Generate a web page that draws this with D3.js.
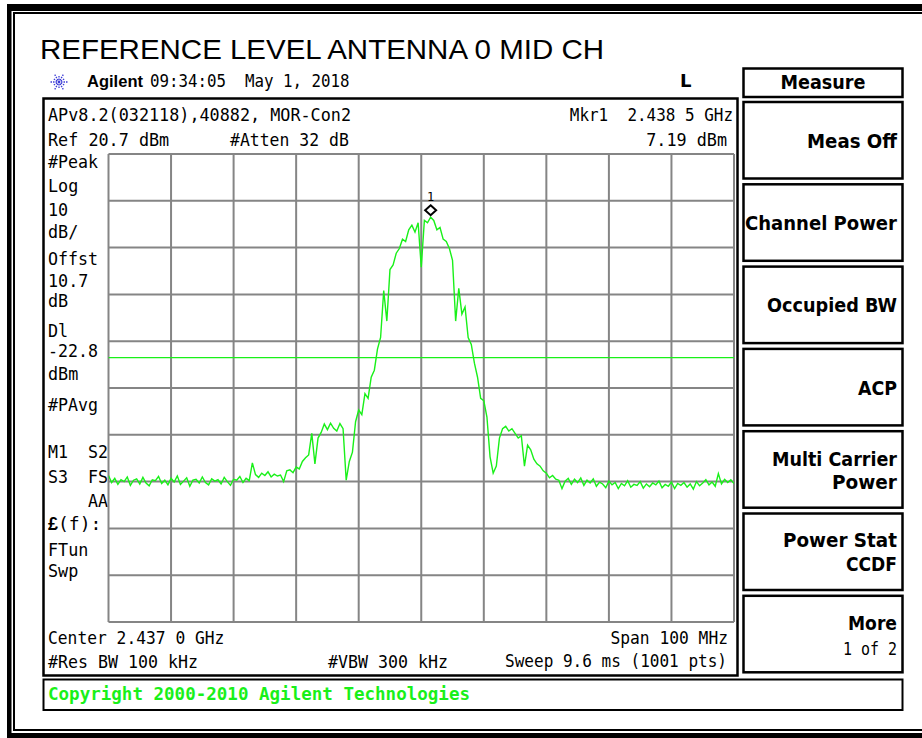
<!DOCTYPE html>
<meta charset="utf-8">
<style>
    body {
        margin: 0;
        background: #fff;
    }

    text {
        white-space: pre;
    }
</style>
<svg width="922" height="738"></svg>
<script src="https://d3js.org/d3.v7.min.js"></script>
<script>
    // sweep settings
    var centerMHz = 2437.0, spanMHz = 100;
    var refLevel = 20.7, dbPerDiv = 10, nDiv = 10;
    var displayLine = -22.8;
    var startMHz = 2387.0, stepMHz = 0.5;

    // trace, dBm, one value per 0.5 MHz from 2387.0 to 2487.0 MHz
    var traceDbm = [
        -48.0, -49.5, -48.6, -49.9, -48.9, -49.3, -48.3, -50.1, -49.0, -48.7,
        -49.8, -48.4, -49.6, -50.2, -48.9, -49.1, -48.2, -49.7, -49.0, -50.0,
        -48.6, -49.4, -48.1, -49.9, -49.2, -48.5, -50.3, -49.0, -48.8, -49.6,
        -48.3, -49.5, -50.0, -48.7, -49.2, -48.9, -49.8, -48.4, -49.3, -50.1,
        -48.8, -49.0, -48.2, -49.5, -48.6, -49.1,
        -45.3, -47.8, -48.4, -47.5, -48.0, -47.2, -48.3, -47.7, -48.1, -47.9,
        -49.3, -47.0, -46.8, -47.4, -46.2, -46.6, -45.0, -44.2, -43.6, -39.0,
        -45.5, -40.0, -38.8, -37.0, -38.2, -36.8, -37.9, -38.5, -36.9, -38.0,
        -49.0, -45.0, -43.0, -36.5, -34.0, -35.0, -30.5, -31.5, -27.0, -25.5,
        -21.0, -18.5, -8.5, -15.0, -4.0, -3.0, -0.5, 0.5, 2.5, 2.0,
        4.5, 5.5, 4.0, 6.0, -3.5, 6.5, 6.0, 7.19, 6.5, 4.5,
        5.0, 2.5, 2.0, 0.5, -2.0, -15.0, -8.0, -13.5, -12.0, -18.5,
        -20.0, -24.0, -27.0, -31.5, -32.0, -35.5, -44.0, -47.5, -46.0, -40.0,
        -38.0, -37.5, -38.5, -38.0, -39.0, -40.0, -39.5, -46.0, -41.5, -42.5,
        -44.5, -45.5, -46.0, -47.0, -47.5, -48.5, -48.0, -48.8, -49.0, -50.8,
        -49.2, -48.6, -49.9, -48.8, -49.5, -48.5, -50.1, -49.0, -49.6, -48.7,
        -50.3, -49.4, -49.8, -50.6, -49.2, -50.0, -49.5, -50.8, -49.7, -50.2,
        -49.1, -50.5, -49.9, -50.1, -49.3, -50.7, -49.8, -50.4, -49.6, -50.0,
        -49.2, -50.6, -49.9, -50.3, -49.4, -50.8, -49.7, -50.1, -49.5, -50.5,
        -49.8, -50.9, -49.3, -50.2, -49.6, -48.9, -50.0, -49.4, -50.3, -47.6,
        -49.8, -48.8, -49.5, -48.9, -49.7
    ];

    var marker = {mhz: 2438.5, dbm: 7.19, label: "1"};

    // screen texts
    var title = "REFERENCE LEVEL ANTENNA 0 MID CH";
    var clock = "09:34:05  May 1, 2018";
    var topLines = ["APv8.2(032118),40882, MOR-Con2", "Ref 20.7 dBm"];
    var attenText = "#Atten 32 dB";
    var mkrLines = ["Mkr1  2.438 5 GHz", "7.19 dBm"];
    var sideLabels = ["#Peak", "Log", "10", "dB/", "Offst", "10.7", "dB", "Dl", "-22.8", "dBm",
        "#PAvg", "M1  S2", "S3  FS", "    AA", "(f):", "FTun", "Swp"];
    var bottomLeft = ["Center 2.437 0 GHz", "#Res BW 100 kHz"];
    var vbwText = "#VBW 300 kHz";
    var bottomRight = ["Span 100 MHz", "Sweep 9.6 ms (1001 pts)"];
    var menuTitle = "Measure";
    var softkeys = [["Meas Off"], ["Channel Power"], ["Occupied BW"], ["ACP"],
        ["Multi Carrier", "Power"], ["Power Stat", "CCDF"], ["More", "1 of 2"]];
    var copyright = "Copyright 2000-2010 Agilent Technologies";

    var svg = d3.select("svg");
    var MONO = "'DejaVu Sans Mono', monospace";
    var SANS = "'Liberation Sans', Arial, sans-serif";
    var KEYF = "'DejaVu Sans', sans-serif";
    var GREEN = "#19f019";

    // plot area
    var plot = {left: 108.5, right: 734, top: 154, bottom: 622};

    var x = d3.scaleLinear()
        .domain([centerMHz - spanMHz / 2, centerMHz + spanMHz / 2])
        .range([plot.left, plot.right]);

    var y = d3.scaleLinear()
        .domain([refLevel - dbPerDiv * nDiv, refLevel])
        .range([plot.bottom, plot.top]);

    function mono(g, px, py, s, opt) {
        opt = opt || {};
        var cw = opt.cw || 10.1;
        return g.append("text")
            .attr("x", px)
            .attr("y", py)
            .attr("font-family", MONO)
            .attr("font-size", opt.size || 18)
            .attr("font-weight", opt.weight || "normal")
            .attr("fill", opt.fill || "#000")
            .attr("text-anchor", opt.anchor || "start")
            .attr("textLength", s.length * cw)
            .attr("lengthAdjust", "spacingAndGlyphs")
            .text(s);
    }

    // outer frame
    svg.append("rect").attr("x", 7).attr("y", 4).attr("width", 930).attr("height", 7).attr("fill", "#000");
    svg.append("rect").attr("x", 7).attr("y", 4).attr("width", 4.5).attr("height", 734).attr("fill", "#000");
    svg.append("rect").attr("x", 7).attr("y", 733).attr("width", 930).attr("height", 6).attr("fill", "#000");
    svg.append("rect").attr("x", 14).attr("y", 13).attr("width", 930).attr("height", 717)
        .attr("fill", "none").attr("stroke", "#000").attr("stroke-width", 2);

    // title
    svg.append("text")
        .attr("x", 40).attr("y", 59)
        .attr("font-family", SANS)
        .attr("font-size", 28)
        .attr("textLength", 564)
        .attr("lengthAdjust", "spacingAndGlyphs")
        .text(title);

    // agilent spark logo
    var logo = svg.append("g").attr("transform", "translate(59,82)");
    d3.range(12).forEach(function (k) {
        var a = k * Math.PI / 6;
        logo.append("line")
            .attr("x1", Math.cos(a) * 2).attr("y1", Math.sin(a) * 2)
            .attr("x2", Math.cos(a) * (k % 2 ? 6.5 : 8.5)).attr("y2", Math.sin(a) * (k % 2 ? 6.5 : 8.5))
            .attr("stroke", "#3b3bd6")
            .attr("stroke-width", 1.3)
            .attr("stroke-dasharray", "1.5,1");
    });
    logo.append("circle").attr("r", 1.4).attr("fill", "#3b3bd6");

    svg.append("text")
        .attr("x", 87).attr("y", 87)
        .attr("font-family", SANS)
        .attr("font-size", 17)
        .attr("font-weight", "bold")
        .attr("textLength", 56)
        .attr("lengthAdjust", "spacingAndGlyphs")
        .text("Agilent");
    mono(svg, 150, 87, clock, {cw: 9.5});
    svg.append("text")
        .attr("x", 680).attr("y", 87)
        .attr("font-family", KEYF)
        .attr("font-size", 18)
        .attr("font-weight", "bold")
        .text("L");

    // instrument screen box
    svg.append("rect")
        .attr("x", 43.5).attr("y", 98.5).attr("width", 694).attr("height", 577)
        .attr("fill", "#fff").attr("stroke", "#000").attr("stroke-width", 2.5);

    mono(svg, 48, 121, topLines[0]);
    mono(svg, 48, 146, topLines[1]);
    mono(svg, 230, 146, attenText, {cw: 9.9});
    mono(svg, 733, 121, mkrLines[0], {anchor: "end", cw: 9.6});
    mono(svg, 727, 146, mkrLines[1], {anchor: "end"});

    var sideY = [168, 192, 216, 238, 265, 287, 307, 337, 357, 380, 411, 458, 483, 507, 530, 556, 577];
    sideLabels.forEach(function (s, i) {
        if (s === "(f):") {
            var t = svg.append("text")
                .attr("x", 48).attr("y", sideY[i])
                .attr("font-family", MONO)
                .attr("font-size", 18);
            t.append("tspan").attr("font-weight", "bold").attr("font-family", SANS).text("£");
            t.append("tspan").text(s);
        } else {
            mono(svg, 48, sideY[i], s, {cw: s.length > 4 ? 10 : 10.1});
        }
    });

    mono(svg, 48, 644, bottomLeft[0], {cw: 9.8});
    mono(svg, 48, 668, bottomLeft[1], {cw: 10});
    mono(svg, 328, 668, vbwText, {cw: 10});
    mono(svg, 728, 644, bottomRight[0], {anchor: "end", cw: 9.8});
    mono(svg, 727, 667, bottomRight[1], {anchor: "end", cw: 9.65});

    // graticule
    var grid = svg.append("g").attr("stroke", "#858585").attr("stroke-width", 2);
    d3.range(nDiv + 1).forEach(function (k) {
        var f = x.domain()[0] + k * spanMHz / nDiv;
        grid.append("line")
            .attr("x1", x(f)).attr("x2", x(f))
            .attr("y1", plot.top).attr("y2", plot.bottom);
        var lv = refLevel - k * dbPerDiv;
        grid.append("line")
            .attr("x1", plot.left).attr("x2", plot.right)
            .attr("y1", y(lv)).attr("y2", y(lv));
    });

    svg.append("clipPath").attr("id", "clip")
        .append("rect")
        .attr("x", plot.left).attr("y", plot.top)
        .attr("width", plot.right - plot.left).attr("height", plot.bottom - plot.top);

    // display line
    svg.append("line")
        .attr("x1", plot.left).attr("x2", plot.right)
        .attr("y1", y(displayLine)).attr("y2", y(displayLine))
        .attr("stroke", GREEN).attr("stroke-width", 1.3);

    // trace
    var line = d3.line()
        .x(function (d, i) { return x(startMHz + i * stepMHz); })
        .y(function (d) { return y(d); });

    svg.append("path")
        .datum(traceDbm)
        .attr("clip-path", "url(#clip)")
        .attr("d", line)
        .attr("fill", "none")
        .attr("stroke", GREEN)
        .attr("stroke-width", 1.4)
        .attr("stroke-linejoin", "miter");

    // marker 1
    var mx = x(marker.mhz), my = y(marker.dbm) - 7;
    svg.append("path")
        .attr("d", "M" + mx + "," + (my - 5) + "L" + (mx + 5.5) + "," + my + "L" + mx + "," + (my + 5) + "L" + (mx - 5.5) + "," + my + "Z")
        .attr("fill", "#fff").attr("stroke", "#000").attr("stroke-width", 2);
    svg.append("text")
        .attr("x", mx).attr("y", my - 9)
        .attr("text-anchor", "middle")
        .attr("font-family", MONO)
        .attr("font-size", 12)
        .text(marker.label);

    // copyright bar
    svg.append("rect")
        .attr("x", 43.5).attr("y", 679.5).attr("width", 859).attr("height", 30.5)
        .attr("fill", "#fff").attr("stroke", "#000").attr("stroke-width", 2);
    mono(svg, 48, 700, copyright, {cw: 10.55, weight: "bold", fill: GREEN});

    // softkey menu
    svg.append("rect")
        .attr("x", 743.5).attr("y", 68.5).attr("width", 159).attr("height", 28.5)
        .attr("fill", "#fff").attr("stroke", "#000").attr("stroke-width", 2.5);
    svg.append("text")
        .attr("x", 823).attr("y", 89)
        .attr("text-anchor", "middle")
        .attr("font-family", KEYF)
        .attr("font-size", 19)
        .attr("font-weight", "bold")
        .attr("textLength", 85)
        .attr("lengthAdjust", "spacingAndGlyphs")
        .text(menuTitle);

    var keyWidth = {
        "Meas Off": 90, "Channel Power": 152, "Occupied BW": 130, "ACP": 39,
        "Multi Carrier": 125, "Power": 65, "Power Stat": 114, "CCDF": 51,
        "More": 49, "1 of 2": 54
    };
    var keyBase = [[148], [230], [312], [395], [466, 489], [547, 571], [630, 655]];

    softkeys.forEach(function (lines, i) {
        var top = 102 + i * 82.3;
        svg.append("rect")
            .attr("x", 743.5).attr("y", top).attr("width", 159).attr("height", 76.5)
            .attr("fill", "#fff").attr("stroke", "#000").attr("stroke-width", 2.5);
        lines.forEach(function (s, j) {
            var sub = (s === "1 of 2");
            svg.append("text")
                .attr("x", 897).attr("y", keyBase[i][j])
                .attr("text-anchor", "end")
                .attr("font-family", sub ? MONO : KEYF)
                .attr("font-size", sub ? 18 : 20)
                .attr("font-weight", sub ? "normal" : "bold")
                .attr("textLength", keyWidth[s])
                .attr("lengthAdjust", "spacingAndGlyphs")
                .text(s);
        });
    });
</script>
